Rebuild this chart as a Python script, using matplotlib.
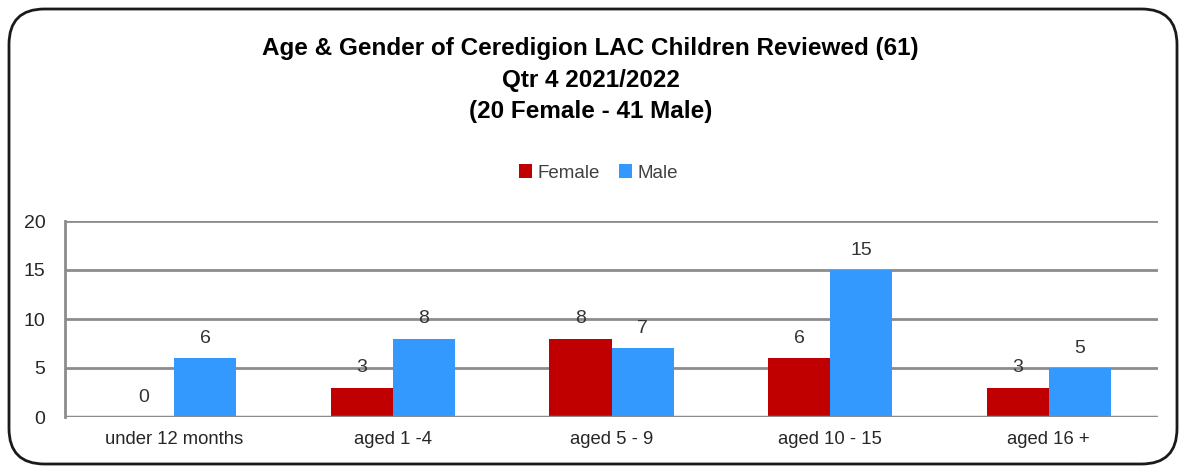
import matplotlib
matplotlib.use("Agg")
import matplotlib.pyplot as plt
from matplotlib.patches import FancyBboxPatch
import numpy as np

plt.rcParams['font.family'] = ['Liberation Sans', 'DejaVu Sans']

categories = ["under 12 months", "aged 1 -4", "aged 5 - 9", "aged 10 - 15", "aged 16 +"]
female = [0, 3, 8, 6, 3]
male = [6, 8, 7, 15, 5]
title = ("Age & Gender of Ceredigion LAC Children Reviewed (61)\n"
         "Qtr 4 2021/2022\n(20 Female - 41 Male)")

fig = plt.figure(figsize=(11.81, 4.67), dpi=100)
ax = fig.add_axes([65 / 1181, 1 - 417 / 467, (1158 - 65) / 1181, (417 - 221) / 467])

x = np.arange(len(categories))
w = 0.284
b1 = ax.bar(x - w / 2, female, w, color="#C00000", label="Female", zorder=3)
b2 = ax.bar(x + w / 2, male, w, color="#3399FF", label="Male", zorder=3)

for bars in (b1, b2):
    for rect in bars:
        ax.annotate(f"{rect.get_height():.0f}",
                    (rect.get_x() + rect.get_width() / 2, rect.get_height()),
                    xytext=(0, 8), textcoords="offset points",
                    ha="center", va="bottom", fontsize=14, color="#333333")

ax.set_xlim(-0.5, len(categories) - 0.5)
ax.set_ylim(0, 20)
ax.set_yticks([0, 5, 10, 15, 20])
ax.set_xticks(x)
ax.set_xticklabels(categories)
ax.yaxis.grid(True, color="#8C8C8C", linewidth=2, zorder=0)
for s in ("top", "right", "bottom"):
    ax.spines[s].set_visible(False)
ax.spines["left"].set_color("#8C8C8C")
ax.spines["left"].set_linewidth(2)
ax.axhline(0, color="#8C8C8C", linewidth=2.5, zorder=4)
ax.tick_params(axis="x", length=0, labelsize=13.3, labelcolor="#262626", pad=10)
ax.tick_params(axis="y", length=0, labelsize=14, labelcolor="#262626", pad=14)

fig.text(0.5, 1 - 80 / 467, title, ha="center", va="center", fontsize=17.5,
         fontweight="bold", linespacing=1.45)
fig.legend(handles=[b1, b2], loc="center", bbox_to_anchor=(0.507, 1 - 173 / 467),
           ncol=2, frameon=False, fontsize=13.5, handlelength=0.7, handleheight=0.7,
           handletextpad=0.3, columnspacing=1.0, labelcolor="#404040")

border = FancyBboxPatch((9 / 1181, 3 / 467), 1168 / 1181, 455 / 467,
                        boxstyle="round,pad=0,rounding_size=0.03",
                        transform=fig.transFigure, fill=False,
                        edgecolor="#1a1a1a", linewidth=2,
                        mutation_aspect=1181 / 467)
fig.patches.append(border)

fig.savefig("out.png", dpi=100)
